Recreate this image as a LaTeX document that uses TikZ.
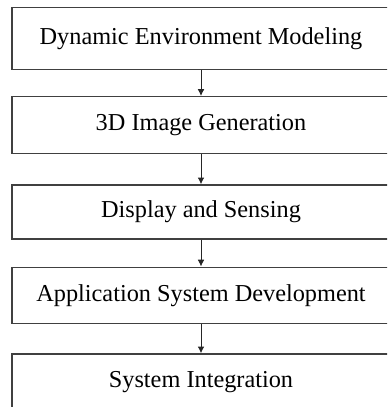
\documentclass[tikz,border=0pt]{standalone}
\usepackage{fontspec}
\setmainfont{Liberation Serif}
\usetikzlibrary{arrows.meta}
\tikzset{
    stage/.style={
        rectangle, draw=black!75, line width=0.7pt,
        minimum width=189pt, inner sep=0pt,
        fill=white, font=\fontsize{12.15}{14}\selectfont
    },
    flow/.style={draw=black!85, line width=0.5pt, -{Latex[length=3.4pt,width=3.4pt]}}
}

\begin{document}
\begin{tikzpicture}[x=1pt,y=1pt]

% page frame (boxes run off the right and bottom edges)
\useasboundingbox (0,0) rectangle (193.5,-203.5);
\clip (0,0) rectangle (193.5,-203.5);

% Stages, top to bottom
\node[stage, minimum height=31pt] (model) at (100.5,-19.2) {Dynamic Environment Modeling};
\node[stage, minimum height=28.3pt] (gen) at (100.5,-62.5) {3D Image Generation};
\node[stage, minimum height=27pt] (disp) at (100.5,-106) {Display and Sensing};
\node[stage, minimum height=28pt] (app) at (100.5,-147.6) {Application System Development};
\node[stage, minimum height=28pt] (integ) at (100.5,-191) {System Integration};

% Flow between stages
\draw[flow] (model) -- (gen);
\draw[flow] (gen) -- (disp);
\draw[flow] (disp) -- (app);
\draw[flow] (app) -- (integ);

\end{tikzpicture}
\end{document}
